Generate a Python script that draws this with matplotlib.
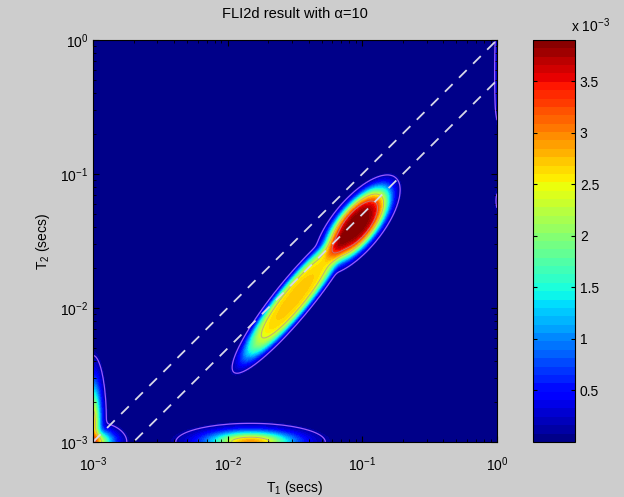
import numpy as np
import matplotlib
matplotlib.use("Agg")
import matplotlib.pyplot as plt

plt.rcParams["font.family"] = ["Liberation Sans", "DejaVu Sans"]
plt.rcParams["mathtext.default"] = "regular"

# Distribution components in log10 space:
# centre (log10 T1, log10 T2), amplitude, spread along / across the axis at comp_angle,
# and a shape exponent (2 = gaussian, higher = flatter top)
comp_u = [-1.04, -1.50, -1.83, -3.00, -3.00, 0.00, 0.00]
comp_v = [-1.38, -1.92, -3.00, -2.85, -3.00, -0.25, -1.20]
comp_amp = [3.9e-3, 2.7e-3, 2.9e-3, 2.6e-3, 2.8e-3, 0.3e-3, 0.15e-3]
comp_along = [0.28, 0.50, 0.22, 0.20, 0.10, 0.30, 0.08]
comp_across = [0.115, 0.097, 0.055, 0.04, 0.06, 0.015, 0.012]
comp_angle = [51, 51, 0, 90, 0, 90, 90]
comp_shape = [4, 5, 2, 2, 2, 4, 2]

t1_ticks = [1e-3, 1e-2, 1e-1, 1e0]
t2_ticks = [1e-3, 1e-2, 1e-1, 1e0]
cbar_ticks = [0.5e-3, 1e-3, 1.5e-3, 2e-3, 2.5e-3, 3e-3, 3.5e-3]
cbar_labels = ["0.5", "1", "1.5", "2", "2.5", "3", "3.5"]
fmax = 3.9e-3

# grid in log space
u = np.linspace(-3, 0, 301)
v = np.linspace(-3, 0, 301)
U, V = np.meshgrid(u, v)
acc = np.zeros_like(U)
for cu, cv, a, sa, sc, ang, p in zip(comp_u, comp_v, comp_amp, comp_along,
                                     comp_across, comp_angle, comp_shape):
    th = np.deg2rad(ang)
    du, dv = U - cu, V - cv
    s = du * np.cos(th) + dv * np.sin(th)
    d = -du * np.sin(th) + dv * np.cos(th)
    r2 = (s / sa) ** 2 + (d / sc) ** 2
    g = a * np.exp(-0.5 * r2 ** (p / 2))
    acc += (g / fmax) ** 2
# blend the components (root of summed squares)
F = np.clip(fmax * np.sqrt(acc), 0, fmax)

T1 = 10 ** U
T2 = 10 ** V

fig = plt.figure(figsize=(6.24, 4.97), dpi=100, facecolor="#cdcdcd")
ax = fig.add_axes([0.149, 0.1107, 0.6474, 0.8089])
cax = fig.add_axes([0.854, 0.1107, 0.0673, 0.8089])

levels = np.linspace(0, fmax, 49)
cf = ax.contourf(T1, T2, F, levels=levels, cmap="jet", vmin=0, vmax=fmax)
ax.contour(T1, T2, F, levels=[0.12e-3], colors="#9a5cff", linewidths=0.9)
ax.contour(T1, T2, F, levels=[2.35e-3, 3.25e-3], colors="#b08aa0", linewidths=0.7, alpha=0.7)

# reference lines T2 = T1 and T2 = T1/2
line_t = np.array([1e-3, 1.0])
ax.plot(line_t, line_t, color="#d8d8e8", lw=1.3, dashes=(6, 5))
ax.plot(line_t, line_t / 2, color="#d8d8e8", lw=1.3, dashes=(6, 5))

ax.set_xscale("log")
ax.set_yscale("log")
ax.set_xlim(1e-3, 1)
ax.set_ylim(1e-3, 1)
ax.set_xticks(t1_ticks)
ax.set_yticks(t2_ticks)
ax.tick_params(which="both", direction="in", top=True, right=True, labelsize=10)
ax.tick_params(which="major", length=4)
ax.tick_params(which="minor", length=2)
ax.tick_params(axis="x", pad=10)
ax.set_title("FLI2d result with α=10", fontsize=10.5, pad=16)
ax.set_xlabel("T$_1$ (secs)", fontsize=10, labelpad=3)
ax.set_ylabel("T$_2$ (secs)", fontsize=10, labelpad=6)

cb = fig.colorbar(cf, cax=cax, ticks=cbar_ticks)
cb.ax.set_yticklabels(cbar_labels)
cb.ax.tick_params(direction="in", left=True, right=True, labelsize=10, length=3)
cb.outline.set_linewidth(0.8)
fig.text(0.915, 0.935, "x 10$^{-3}$", fontsize=10, ha="left", va="baseline")

fig.savefig("out.png", dpi=100, facecolor=fig.get_facecolor())
